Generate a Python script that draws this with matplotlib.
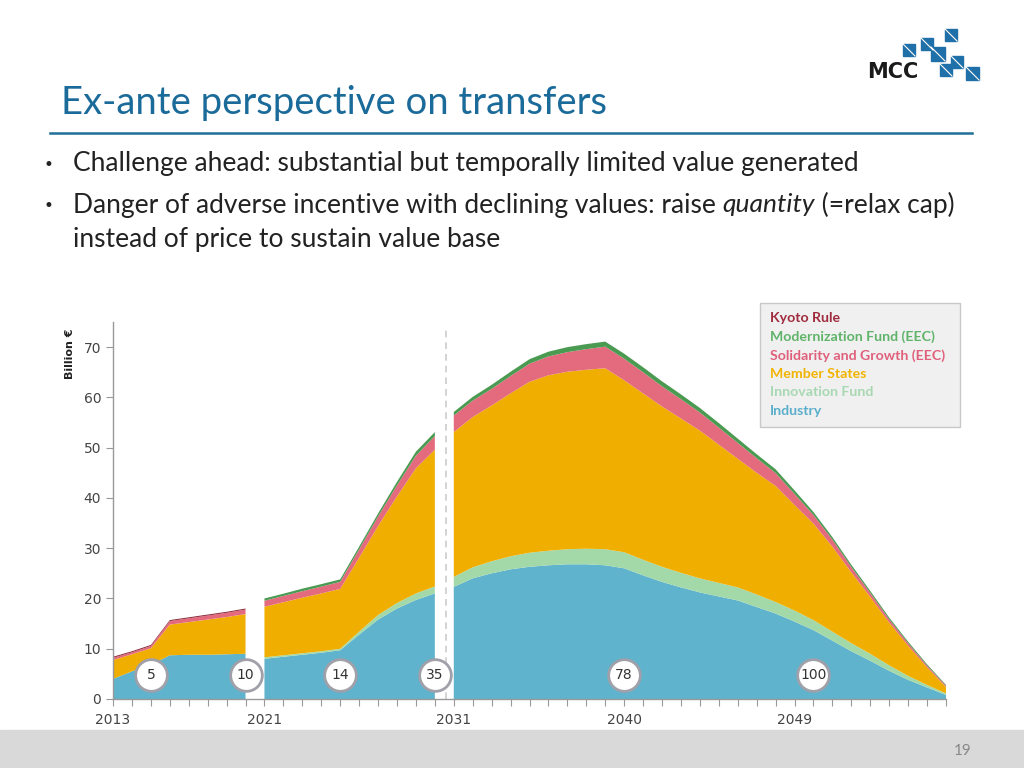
import numpy as np
import matplotlib.pyplot as plt
from matplotlib.patches import Rectangle
from matplotlib.lines import Line2D

# ── Data (billion €, stacked bottom → top) ──
years_a = list(range(2013, 2021))
industry_a   = [4.0, 5.5, 6.8, 8.7, 8.8, 8.8, 8.9, 9.0]
innovation_a = [0, 0, 0, 0, 0, 0, 0, 0]
member_a     = [3.75, 3.4, 3.3, 6.1, 6.5, 7.0, 7.4, 7.9]
solidarity_a = [0.45, 0.4, 0.45, 0.7, 0.75, 0.8, 0.85, 0.9]
modern_a     = [0, 0, 0, 0, 0, 0, 0, 0]
kyoto_a      = [0.2, 0.2, 0.2, 0.2, 0.2, 0.2, 0.2, 0.2]

years_b = list(range(2021, 2031))
industry_b   = [8.0, 8.4, 8.8, 9.2, 9.7, 12.8, 15.8, 18.0, 19.7, 21.0]
innovation_b = [0.3, 0.3, 0.3, 0.3, 0.3, 0.6, 0.9, 1.1, 1.3, 1.4]
member_b     = [10.05, 10.55, 11.05, 11.5, 11.9, 14.7, 17.7, 21.2, 24.9, 27.2]
solidarity_b = [1.2, 1.25, 1.3, 1.35, 1.4, 1.65, 1.9, 2.2, 2.5, 2.7]
modern_b     = [0.45, 0.45, 0.5, 0.5, 0.5, 0.55, 0.6, 0.7, 0.8, 0.8]
kyoto_b      = [0] * 10

years_c = list(range(2031, 2058))
industry_c   = [22.3, 24.0, 25.0, 25.8, 26.3, 26.6, 26.8, 26.8, 26.6, 26.0,
                24.6, 23.3, 22.2, 21.2, 20.4, 19.6, 18.3, 17.0, 15.4, 13.7,
                11.6, 9.5, 7.6, 5.6, 3.8, 2.3, 0.8]
innovation_c = [2.0, 2.2, 2.4, 2.6, 2.8, 2.9, 3.0, 3.1, 3.2, 3.2,
                3.1, 3.0, 2.9, 2.8, 2.7, 2.6, 2.5, 2.3, 2.2, 2.0,
                1.8, 1.6, 1.4, 1.1, 0.8, 0.5, 0.3]
member_c     = [28.8, 29.9, 31.0, 32.4, 34.0, 34.9, 35.3, 35.6, 36.0, 34.2,
                33.1, 31.9, 30.7, 29.4, 27.5, 25.6, 24.2, 23.1, 21.0, 19.2,
                16.9, 14.1, 11.3, 8.5, 6.0, 3.5, 1.3]
solidarity_c = [3.3, 3.25, 3.3, 3.45, 3.6, 3.75, 3.9, 4.1, 4.3, 4.3,
                4.2, 4.0, 3.85, 3.6, 3.4, 3.15, 2.9, 2.55, 2.2, 1.7,
                1.4, 1.05, 0.8, 0.65, 0.5, 0.35, 0.25]
modern_c     = [0.7, 0.75, 0.8, 0.85, 0.9, 0.95, 1.0, 1.0, 1.0, 1.0,
                1.0, 1.0, 0.95, 0.9, 0.9, 0.85, 0.8, 0.75, 0.7, 0.6,
                0.5, 0.45, 0.4, 0.35, 0.3, 0.25, 0.15]
kyoto_c      = [0] * 27

legend_labels = ['Kyoto Rule', 'Modernization Fund (EEC)', 'Solidarity and Growth (EEC)',
                 'Member States', 'Innovation Fund', 'Industry']
legend_colors = ['#a02b3e', '#5fb46a', '#e0607c', '#f2b400', '#a8d8b2', '#5aaecb']

marker_years  = [2015, 2020, 2025, 2030, 2040, 2050]
marker_labels = ['5', '10', '14', '35', '78', '100']

tick_years  = list(range(2013, 2058))
tick_labels = {2013: '2013', 2021: '2021', 2031: '2031', 2040: '2040', 2049: '2049'}

stack_colors = ['#5fb3cc', '#a3d9a9', '#f0ae00', '#e46b7e', '#4b9a52', '#8b2a3a']

W, H = 1024, 768
fig = plt.figure(figsize=(10.24, 7.68), dpi=100)
fig.patch.set_facecolor('white')

def fx(x): return x / W
def fy(y): return 1 - y / H

# ── Slide decoration ──
fig.text(fx(61), fy(103), 'Ex-ante perspective on transfers', fontsize=27.5,
         family='Lato', color='#1a6a9a', va='center', ha='left')
fig.add_artist(Line2D([fx(50), fx(972)], [fy(133), fy(133)], color='#1f6f99', lw=1.8))

body = dict(fontsize=19, family='Lato', color='#222222', va='center')
bullet = dict(fontsize=12, family='DejaVu Sans', color='#222222', va='center')
fig.text(fx(43), fy(165), '•', **bullet)
fig.text(fx(73), fy(164), 'Challenge ahead: substantial but temporally limited value generated', **body)
fig.text(fx(43), fy(206), '•', **bullet)
r = fig.canvas.get_renderer()
t1 = fig.text(fx(73), fy(205), 'Danger of adverse incentive with declining values: raise ', **body)
x1 = t1.get_window_extent(renderer=r).x1
t2 = fig.text(x1 / W, fy(205), 'quantity', style='italic', **body)
x2 = t2.get_window_extent(renderer=r).x1
fig.text(x2 / W, fy(205), ' (=relax cap)', **body)
fig.text(fx(73), fy(240), 'instead of price to sustain value base', **body)

# footer
fig.add_artist(Rectangle((0, 0), 1, 38 / H, transform=fig.transFigure,
                         color='#d9d9d9', zorder=0))
fig.text(fx(963), fy(751), '19', fontsize=11, family='Lato', color='#888888',
         ha='center', va='center')

# logo
fig.text(fx(893), fy(72), 'MCC', fontsize=15, family='DejaVu Sans', weight='bold',
         color='#1a1a1a', ha='center', va='center')
for (x0, y0, s) in [(903, 44, 12), (921, 38, 12), (931, 47, 14), (945, 29, 12),
                    (940, 64, 12), (951, 56, 12), (966, 67, 13)]:
    fig.add_artist(Rectangle((fx(x0), fy(y0 + s)), s / W, s / H,
                             transform=fig.transFigure, color='#1f6fa8'))
    fig.add_artist(Line2D([fx(x0), fx(x0 + s)], [fy(y0), fy(y0 + s)],
                          color='white', lw=0.8))

# ── Chart ──
ax = fig.add_axes([fx(113), fy(699), 833 / W, 377 / H])
for yrs, ind, inn, mem, sol, mod, kyo in [
        (years_a, industry_a, innovation_a, member_a, solidarity_a, modern_a, kyoto_a),
        (years_b, industry_b, innovation_b, member_b, solidarity_b, modern_b, kyoto_b),
        (years_c, industry_c, innovation_c, member_c, solidarity_c, modern_c, kyoto_c)]:
    ax.stackplot(yrs, ind, inn, mem, sol, mod, kyo, colors=stack_colors, lw=0)

ax.axvline(2030.6, ymin=0, ymax=74 / 75, color='#cccccc', lw=1.2, ls=(0, (4, 3)))

ax.scatter(marker_years, [4.8] * len(marker_years), s=520, c='white',
           edgecolors='#a0a0aa', linewidths=2, zorder=5, clip_on=False)
for xm, lab in zip(marker_years, marker_labels):
    ax.text(xm, 4.8, lab, ha='center', va='center', fontsize=10,
            color='#333333', zorder=6)

ax.set_xlim(2013, 2057)
ax.set_ylim(0, 75)
ax.set_xticks(tick_years)
ax.set_xticklabels([tick_labels.get(y, '') for y in tick_years])
ax.set_yticks(range(0, 71, 10))
for s in ['top', 'right']:
    ax.spines[s].set_visible(False)
for s in ['left', 'bottom']:
    ax.spines[s].set_color('#999999')
    ax.spines[s].set_linewidth(1)
ax.tick_params(colors='#999999', labelcolor='#444444', labelsize=10, length=5)
ax.tick_params(axis='x', pad=5)

fig.text(fx(70), fy(354), 'Billion €', rotation=90, fontsize=8, weight='bold',
         color='#222222', ha='center', va='center')

# legend box
fig.add_artist(Rectangle((fx(760), fy(427)), 200 / W, 124 / H, transform=fig.transFigure,
                         facecolor='#f0f0f0', edgecolor='#c8c8c8', lw=1))
for i, (lab, col) in enumerate(zip(legend_labels, legend_colors)):
    fig.text(fx(770), fy(318 + i * 18.6), lab, fontsize=10.2, family='Lato',
             weight='bold', color=col, va='center', ha='left')

plt.savefig('out.png', dpi=100)
